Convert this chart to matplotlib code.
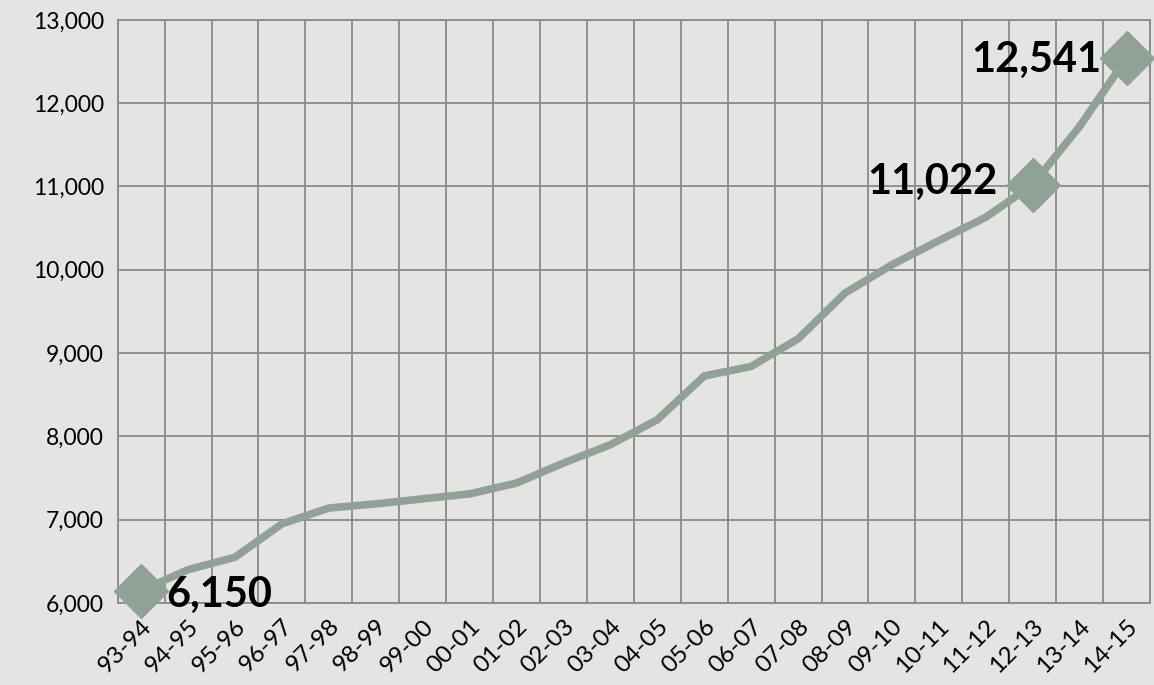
import numpy as np
import matplotlib.pyplot as plt

# учебные годы и значения
years = ["93-94", "94-95", "95-96", "96-97", "97-98", "98-99", "99-00", "00-01",
         "01-02", "02-03", "03-04", "04-05", "05-06", "06-07", "07-08", "08-09",
         "09-10", "10-11", "11-12", "12-13", "13-14", "14-15"]
values = [6150, 6400, 6550, 6950, 7140, 7190, 7250, 7310,
          7440, 7680, 7900, 8200, 8725, 8840, 9170, 9720,
          10060, 10350, 10630, 11022, 11720, 12541]

# точки с подписями
marked = [0, 19, 21]

bg = "#e4e4e4"
line_color = "#8fa295"
grid_color = "#8a8a8a"

plt.rcParams['font.family'] = ['Lato', 'DejaVu Sans']

fig = plt.figure(figsize=(11.54, 6.85), dpi=100, facecolor=bg)
ax = fig.add_axes([0.102, 0.1197, 0.8945, 0.8513])
ax.set_facecolor(bg)

x = np.arange(len(years))
ax.plot(x, values, color=line_color, linewidth=5.5, solid_joinstyle='miter', zorder=3)
ax.plot(x[marked], [values[i] for i in marked], linestyle='none', marker='D',
        markersize=27, color=line_color, zorder=4, clip_on=False)

ax.set_xlim(-0.5, len(years) - 0.5)
ax.set_ylim(6000, 13000)

# сетка по границам категорий
ax.set_xticks(np.arange(-0.5, len(years), 1), minor=True)
ax.set_xticks(x)
ax.set_xticklabels(years, rotation=45, ha='right', rotation_mode='anchor', fontsize=17.5)
ax.set_yticks(np.arange(6000, 13001, 1000))
ax.set_yticklabels([f"{v:,}" for v in range(6000, 13001, 1000)], fontsize=16.5)
ax.grid(True, which='minor', axis='x', color=grid_color, linewidth=1.3)
ax.grid(True, which='major', axis='y', color=grid_color, linewidth=1.3)
ax.tick_params(which='both', length=0)
ax.tick_params(axis='x', pad=9)
ax.tick_params(axis='y', pad=10)
for s in ax.spines.values():
    s.set_color(grid_color)
    s.set_linewidth(1.3)

# подписи значений
ax.annotate(f"{values[0]:,}", (x[0], values[0]), xytext=(18, -3), textcoords='offset points',
            ha='left', va='center', fontsize=30, fontweight='bold', zorder=5)
ax.annotate(f"{values[19]:,}", (x[19], values[19]), xytext=(-25, 2), textcoords='offset points',
            ha='right', va='center', fontsize=30, fontweight='bold', zorder=5)
ax.annotate(f"{values[21]:,}", (x[21], values[21]), xytext=(-18, -1), textcoords='offset points',
            ha='right', va='center', fontsize=30, fontweight='bold', zorder=5)

fig.savefig("out.png", dpi=100, facecolor=bg)
